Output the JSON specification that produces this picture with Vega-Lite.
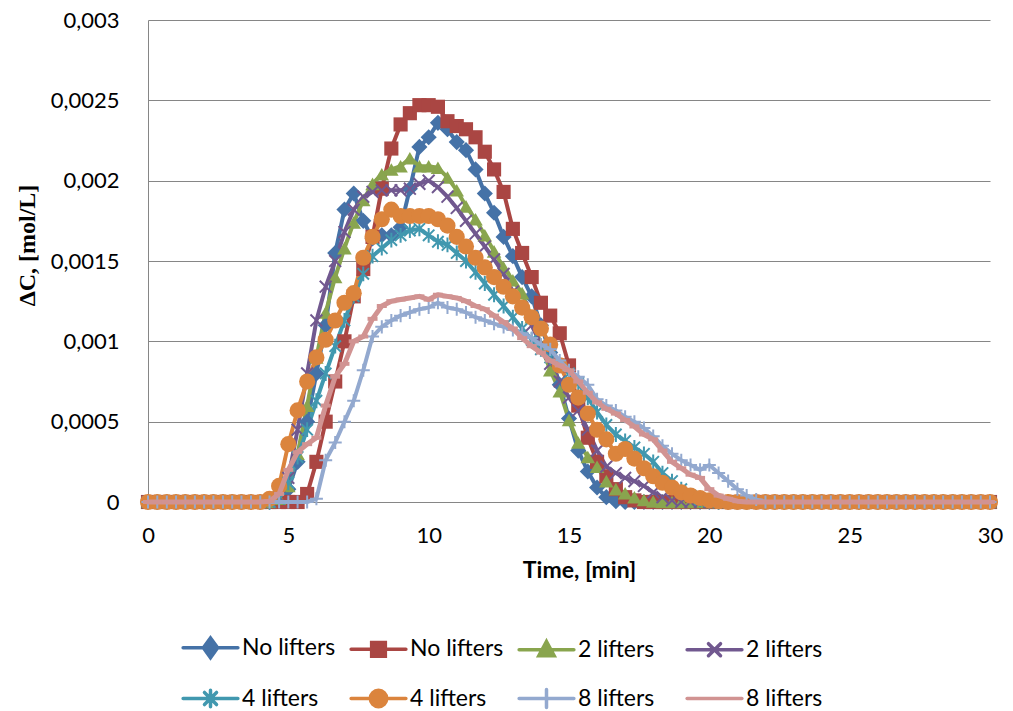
{
"$schema":"https://vega.github.io/schema/vega-lite/v6.json",
"width":842,"height":482,
"autosize":{"type":"none"},
"padding":{"left":148,"top":20,"right":23,"bottom":209},
"background":"white",
"config":{"view":{"stroke":null},"font":"Lato"},
"data":{"values":[
{"s":"No lifters","t":0,"v":0},{"s":"No lifters","t":0.33,"v":0},{"s":"No lifters","t":0.67,"v":0},{"s":"No lifters","t":1,"v":0},{"s":"No lifters","t":1.33,"v":0},{"s":"No lifters","t":1.67,"v":0},{"s":"No lifters","t":2,"v":0},{"s":"No lifters","t":2.33,"v":0},{"s":"No lifters","t":2.67,"v":0},{"s":"No lifters","t":3,"v":0},{"s":"No lifters","t":3.33,"v":0},{"s":"No lifters","t":3.67,"v":0},{"s":"No lifters","t":4,"v":0},{"s":"No lifters","t":4.33,"v":0},{"s":"No lifters","t":4.67,"v":0.00001},{"s":"No lifters","t":5,"v":0.00008},{"s":"No lifters","t":5.33,"v":0.00025},{"s":"No lifters","t":5.67,"v":0.0005},{"s":"No lifters","t":6,"v":0.0008},{"s":"No lifters","t":6.33,"v":0.0011},{"s":"No lifters","t":6.67,"v":0.00155},{"s":"No lifters","t":7,"v":0.00182},{"s":"No lifters","t":7.33,"v":0.00192},{"s":"No lifters","t":7.67,"v":0.00175},{"s":"No lifters","t":8,"v":0.00164},{"s":"No lifters","t":8.33,"v":0.00166},{"s":"No lifters","t":8.67,"v":0.00166},{"s":"No lifters","t":9,"v":0.00171},{"s":"No lifters","t":9.33,"v":0.00195},{"s":"No lifters","t":9.67,"v":0.00221},{"s":"No lifters","t":10,"v":0.00227},{"s":"No lifters","t":10.33,"v":0.00236},{"s":"No lifters","t":10.67,"v":0.00232},{"s":"No lifters","t":11,"v":0.00224},{"s":"No lifters","t":11.33,"v":0.00219},{"s":"No lifters","t":11.67,"v":0.00207},{"s":"No lifters","t":12,"v":0.00192},{"s":"No lifters","t":12.33,"v":0.0018},{"s":"No lifters","t":12.67,"v":0.00165},{"s":"No lifters","t":13,"v":0.00153},{"s":"No lifters","t":13.33,"v":0.0014},{"s":"No lifters","t":13.67,"v":0.00128},{"s":"No lifters","t":14,"v":0.0011},{"s":"No lifters","t":14.33,"v":0.00093},{"s":"No lifters","t":14.67,"v":0.00073},{"s":"No lifters","t":15,"v":0.00052},{"s":"No lifters","t":15.33,"v":0.00032},{"s":"No lifters","t":15.67,"v":0.00019},{"s":"No lifters","t":16,"v":0.00009},{"s":"No lifters","t":16.33,"v":0.00003},{"s":"No lifters","t":16.67,"v":0.000005},{"s":"No lifters","t":17,"v":0},{"s":"No lifters","t":17.33,"v":0},{"s":"No lifters","t":17.67,"v":0},{"s":"No lifters","t":18,"v":0},{"s":"No lifters","t":18.33,"v":0},{"s":"No lifters","t":18.67,"v":0},{"s":"No lifters","t":19,"v":0},{"s":"No lifters","t":19.33,"v":0},{"s":"No lifters","t":19.67,"v":0},{"s":"No lifters","t":20,"v":0},{"s":"No lifters","t":20.33,"v":0},{"s":"No lifters","t":20.67,"v":0},{"s":"No lifters","t":21,"v":0},{"s":"No lifters","t":21.33,"v":0},{"s":"No lifters","t":21.67,"v":0},{"s":"No lifters","t":22,"v":0},{"s":"No lifters","t":22.33,"v":0},{"s":"No lifters","t":22.67,"v":0},{"s":"No lifters","t":23,"v":0},{"s":"No lifters","t":23.33,"v":0},{"s":"No lifters","t":23.67,"v":0},{"s":"No lifters","t":24,"v":0},{"s":"No lifters","t":24.33,"v":0},{"s":"No lifters","t":24.67,"v":0},{"s":"No lifters","t":25,"v":0},{"s":"No lifters","t":25.33,"v":0},{"s":"No lifters","t":25.67,"v":0},{"s":"No lifters","t":26,"v":0},{"s":"No lifters","t":26.33,"v":0},{"s":"No lifters","t":26.67,"v":0},{"s":"No lifters","t":27,"v":0},{"s":"No lifters","t":27.33,"v":0},{"s":"No lifters","t":27.67,"v":0},{"s":"No lifters","t":28,"v":0},{"s":"No lifters","t":28.33,"v":0},{"s":"No lifters","t":28.67,"v":0},{"s":"No lifters","t":29,"v":0},{"s":"No lifters","t":29.33,"v":0},{"s":"No lifters","t":29.67,"v":0},{"s":"No lifters","t":30,"v":0},
{"s":"No lifters ","t":0,"v":0},{"s":"No lifters ","t":0.33,"v":0},{"s":"No lifters ","t":0.67,"v":0},{"s":"No lifters ","t":1,"v":0},{"s":"No lifters ","t":1.33,"v":0},{"s":"No lifters ","t":1.67,"v":0},{"s":"No lifters ","t":2,"v":0},{"s":"No lifters ","t":2.33,"v":0},{"s":"No lifters ","t":2.67,"v":0},{"s":"No lifters ","t":3,"v":0},{"s":"No lifters ","t":3.33,"v":0},{"s":"No lifters ","t":3.67,"v":0},{"s":"No lifters ","t":4,"v":0},{"s":"No lifters ","t":4.33,"v":0},{"s":"No lifters ","t":4.67,"v":0},{"s":"No lifters ","t":5,"v":0},{"s":"No lifters ","t":5.33,"v":0},{"s":"No lifters ","t":5.67,"v":0.00005},{"s":"No lifters ","t":6,"v":0.00025},{"s":"No lifters ","t":6.33,"v":0.0005},{"s":"No lifters ","t":6.67,"v":0.00075},{"s":"No lifters ","t":7,"v":0.001},{"s":"No lifters ","t":7.33,"v":0.00128},{"s":"No lifters ","t":7.67,"v":0.00145},{"s":"No lifters ","t":8,"v":0.00165},{"s":"No lifters ","t":8.33,"v":0.00195},{"s":"No lifters ","t":8.67,"v":0.0022},{"s":"No lifters ","t":9,"v":0.00235},{"s":"No lifters ","t":9.33,"v":0.00242},{"s":"No lifters ","t":9.67,"v":0.00247},{"s":"No lifters ","t":10,"v":0.00247},{"s":"No lifters ","t":10.33,"v":0.00246},{"s":"No lifters ","t":10.67,"v":0.00237},{"s":"No lifters ","t":11,"v":0.00234},{"s":"No lifters ","t":11.33,"v":0.00232},{"s":"No lifters ","t":11.67,"v":0.00227},{"s":"No lifters ","t":12,"v":0.00218},{"s":"No lifters ","t":12.33,"v":0.00207},{"s":"No lifters ","t":12.67,"v":0.00193},{"s":"No lifters ","t":13,"v":0.0017},{"s":"No lifters ","t":13.33,"v":0.00155},{"s":"No lifters ","t":13.67,"v":0.0014},{"s":"No lifters ","t":14,"v":0.00124},{"s":"No lifters ","t":14.33,"v":0.00116},{"s":"No lifters ","t":14.67,"v":0.00105},{"s":"No lifters ","t":15,"v":0.00085},{"s":"No lifters ","t":15.33,"v":0.0006},{"s":"No lifters ","t":15.67,"v":0.0004},{"s":"No lifters ","t":16,"v":0.00025},{"s":"No lifters ","t":16.33,"v":0.00016},{"s":"No lifters ","t":16.67,"v":0.00008},{"s":"No lifters ","t":17,"v":0.00003},{"s":"No lifters ","t":17.33,"v":0.00001},{"s":"No lifters ","t":17.67,"v":0},{"s":"No lifters ","t":18,"v":0},{"s":"No lifters ","t":18.33,"v":0},{"s":"No lifters ","t":18.67,"v":0},{"s":"No lifters ","t":19,"v":0},{"s":"No lifters ","t":19.33,"v":0},{"s":"No lifters ","t":19.67,"v":0},{"s":"No lifters ","t":20,"v":0},{"s":"No lifters ","t":20.33,"v":0},{"s":"No lifters ","t":20.67,"v":0},{"s":"No lifters ","t":21,"v":0},{"s":"No lifters ","t":21.33,"v":0},{"s":"No lifters ","t":21.67,"v":0},{"s":"No lifters ","t":22,"v":0},{"s":"No lifters ","t":22.33,"v":0},{"s":"No lifters ","t":22.67,"v":0},{"s":"No lifters ","t":23,"v":0},{"s":"No lifters ","t":23.33,"v":0},{"s":"No lifters ","t":23.67,"v":0},{"s":"No lifters ","t":24,"v":0},{"s":"No lifters ","t":24.33,"v":0},{"s":"No lifters ","t":24.67,"v":0},{"s":"No lifters ","t":25,"v":0},{"s":"No lifters ","t":25.33,"v":0},{"s":"No lifters ","t":25.67,"v":0},{"s":"No lifters ","t":26,"v":0},{"s":"No lifters ","t":26.33,"v":0},{"s":"No lifters ","t":26.67,"v":0},{"s":"No lifters ","t":27,"v":0},{"s":"No lifters ","t":27.33,"v":0},{"s":"No lifters ","t":27.67,"v":0},{"s":"No lifters ","t":28,"v":0},{"s":"No lifters ","t":28.33,"v":0},{"s":"No lifters ","t":28.67,"v":0},{"s":"No lifters ","t":29,"v":0},{"s":"No lifters ","t":29.33,"v":0},{"s":"No lifters ","t":29.67,"v":0},{"s":"No lifters ","t":30,"v":0},
{"s":"2 lifters","t":0,"v":0},{"s":"2 lifters","t":0.33,"v":0},{"s":"2 lifters","t":0.67,"v":0},{"s":"2 lifters","t":1,"v":0},{"s":"2 lifters","t":1.33,"v":0},{"s":"2 lifters","t":1.67,"v":0},{"s":"2 lifters","t":2,"v":0},{"s":"2 lifters","t":2.33,"v":0},{"s":"2 lifters","t":2.67,"v":0},{"s":"2 lifters","t":3,"v":0},{"s":"2 lifters","t":3.33,"v":0},{"s":"2 lifters","t":3.67,"v":0},{"s":"2 lifters","t":4,"v":0},{"s":"2 lifters","t":4.33,"v":0},{"s":"2 lifters","t":4.67,"v":0.00002},{"s":"2 lifters","t":5,"v":0.0001},{"s":"2 lifters","t":5.33,"v":0.0003},{"s":"2 lifters","t":5.67,"v":0.0006},{"s":"2 lifters","t":6,"v":0.0009},{"s":"2 lifters","t":6.33,"v":0.00118},{"s":"2 lifters","t":6.67,"v":0.0014},{"s":"2 lifters","t":7,"v":0.00158},{"s":"2 lifters","t":7.33,"v":0.00174},{"s":"2 lifters","t":7.67,"v":0.00188},{"s":"2 lifters","t":8,"v":0.00198},{"s":"2 lifters","t":8.33,"v":0.00204},{"s":"2 lifters","t":8.67,"v":0.00207},{"s":"2 lifters","t":9,"v":0.00209},{"s":"2 lifters","t":9.33,"v":0.00214},{"s":"2 lifters","t":9.67,"v":0.00209},{"s":"2 lifters","t":10,"v":0.00209},{"s":"2 lifters","t":10.33,"v":0.00208},{"s":"2 lifters","t":10.67,"v":0.00202},{"s":"2 lifters","t":11,"v":0.00194},{"s":"2 lifters","t":11.33,"v":0.00184},{"s":"2 lifters","t":11.67,"v":0.00176},{"s":"2 lifters","t":12,"v":0.00166},{"s":"2 lifters","t":12.33,"v":0.00156},{"s":"2 lifters","t":12.67,"v":0.00146},{"s":"2 lifters","t":13,"v":0.00138},{"s":"2 lifters","t":13.33,"v":0.0013},{"s":"2 lifters","t":13.67,"v":0.00115},{"s":"2 lifters","t":14,"v":0.00098},{"s":"2 lifters","t":14.33,"v":0.00082},{"s":"2 lifters","t":14.67,"v":0.00069},{"s":"2 lifters","t":15,"v":0.00051},{"s":"2 lifters","t":15.33,"v":0.00037},{"s":"2 lifters","t":15.67,"v":0.00028},{"s":"2 lifters","t":16,"v":0.00022},{"s":"2 lifters","t":16.33,"v":0.00013},{"s":"2 lifters","t":16.67,"v":0.00008},{"s":"2 lifters","t":17,"v":0.000055},{"s":"2 lifters","t":17.33,"v":0.00003},{"s":"2 lifters","t":17.67,"v":0.000012},{"s":"2 lifters","t":18,"v":0.000003},{"s":"2 lifters","t":18.33,"v":0},{"s":"2 lifters","t":18.67,"v":0},{"s":"2 lifters","t":19,"v":0},{"s":"2 lifters","t":19.33,"v":0},{"s":"2 lifters","t":19.67,"v":0},{"s":"2 lifters","t":20,"v":0},{"s":"2 lifters","t":20.33,"v":0},{"s":"2 lifters","t":20.67,"v":0},{"s":"2 lifters","t":21,"v":0},{"s":"2 lifters","t":21.33,"v":0},{"s":"2 lifters","t":21.67,"v":0},{"s":"2 lifters","t":22,"v":0},{"s":"2 lifters","t":22.33,"v":0},{"s":"2 lifters","t":22.67,"v":0},{"s":"2 lifters","t":23,"v":0},{"s":"2 lifters","t":23.33,"v":0},{"s":"2 lifters","t":23.67,"v":0},{"s":"2 lifters","t":24,"v":0},{"s":"2 lifters","t":24.33,"v":0},{"s":"2 lifters","t":24.67,"v":0},{"s":"2 lifters","t":25,"v":0},{"s":"2 lifters","t":25.33,"v":0},{"s":"2 lifters","t":25.67,"v":0},{"s":"2 lifters","t":26,"v":0},{"s":"2 lifters","t":26.33,"v":0},{"s":"2 lifters","t":26.67,"v":0},{"s":"2 lifters","t":27,"v":0},{"s":"2 lifters","t":27.33,"v":0},{"s":"2 lifters","t":27.67,"v":0},{"s":"2 lifters","t":28,"v":0},{"s":"2 lifters","t":28.33,"v":0},{"s":"2 lifters","t":28.67,"v":0},{"s":"2 lifters","t":29,"v":0},{"s":"2 lifters","t":29.33,"v":0},{"s":"2 lifters","t":29.67,"v":0},{"s":"2 lifters","t":30,"v":0},
{"s":"2 lifters ","t":0,"v":0},{"s":"2 lifters ","t":0.33,"v":0},{"s":"2 lifters ","t":0.67,"v":0},{"s":"2 lifters ","t":1,"v":0},{"s":"2 lifters ","t":1.33,"v":0},{"s":"2 lifters ","t":1.67,"v":0},{"s":"2 lifters ","t":2,"v":0},{"s":"2 lifters ","t":2.33,"v":0},{"s":"2 lifters ","t":2.67,"v":0},{"s":"2 lifters ","t":3,"v":0},{"s":"2 lifters ","t":3.33,"v":0},{"s":"2 lifters ","t":3.67,"v":0},{"s":"2 lifters ","t":4,"v":0},{"s":"2 lifters ","t":4.33,"v":0},{"s":"2 lifters ","t":4.67,"v":0.00003},{"s":"2 lifters ","t":5,"v":0.00015},{"s":"2 lifters ","t":5.33,"v":0.00045},{"s":"2 lifters ","t":5.67,"v":0.0008},{"s":"2 lifters ","t":6,"v":0.00113},{"s":"2 lifters ","t":6.33,"v":0.00134},{"s":"2 lifters ","t":6.67,"v":0.0015},{"s":"2 lifters ","t":7,"v":0.00168},{"s":"2 lifters ","t":7.33,"v":0.00182},{"s":"2 lifters ","t":7.67,"v":0.0019},{"s":"2 lifters ","t":8,"v":0.00193},{"s":"2 lifters ","t":8.33,"v":0.00194},{"s":"2 lifters ","t":8.67,"v":0.00194},{"s":"2 lifters ","t":9,"v":0.00194},{"s":"2 lifters ","t":9.33,"v":0.00195},{"s":"2 lifters ","t":9.67,"v":0.00198},{"s":"2 lifters ","t":10,"v":0.002},{"s":"2 lifters ","t":10.33,"v":0.00196},{"s":"2 lifters ","t":10.67,"v":0.0019},{"s":"2 lifters ","t":11,"v":0.00183},{"s":"2 lifters ","t":11.33,"v":0.00175},{"s":"2 lifters ","t":11.67,"v":0.00167},{"s":"2 lifters ","t":12,"v":0.00159},{"s":"2 lifters ","t":12.33,"v":0.00151},{"s":"2 lifters ","t":12.67,"v":0.00142},{"s":"2 lifters ","t":13,"v":0.00131},{"s":"2 lifters ","t":13.33,"v":0.00121},{"s":"2 lifters ","t":13.67,"v":0.0011},{"s":"2 lifters ","t":14,"v":0.00098},{"s":"2 lifters ","t":14.33,"v":0.00086},{"s":"2 lifters ","t":14.67,"v":0.00075},{"s":"2 lifters ","t":15,"v":0.00065},{"s":"2 lifters ","t":15.33,"v":0.00057},{"s":"2 lifters ","t":15.67,"v":0.00045},{"s":"2 lifters ","t":16,"v":0.00032},{"s":"2 lifters ","t":16.33,"v":0.00022},{"s":"2 lifters ","t":16.67,"v":0.00018},{"s":"2 lifters ","t":17,"v":0.00015},{"s":"2 lifters ","t":17.33,"v":0.00013},{"s":"2 lifters ","t":17.67,"v":0.0001},{"s":"2 lifters ","t":18,"v":0.00006},{"s":"2 lifters ","t":18.33,"v":0.00003},{"s":"2 lifters ","t":18.67,"v":0.00001},{"s":"2 lifters ","t":19,"v":0},{"s":"2 lifters ","t":19.33,"v":0},{"s":"2 lifters ","t":19.67,"v":0},{"s":"2 lifters ","t":20,"v":0},{"s":"2 lifters ","t":20.33,"v":0},{"s":"2 lifters ","t":20.67,"v":0},{"s":"2 lifters ","t":21,"v":0},{"s":"2 lifters ","t":21.33,"v":0},{"s":"2 lifters ","t":21.67,"v":0},{"s":"2 lifters ","t":22,"v":0},{"s":"2 lifters ","t":22.33,"v":0},{"s":"2 lifters ","t":22.67,"v":0},{"s":"2 lifters ","t":23,"v":0},{"s":"2 lifters ","t":23.33,"v":0},{"s":"2 lifters ","t":23.67,"v":0},{"s":"2 lifters ","t":24,"v":0},{"s":"2 lifters ","t":24.33,"v":0},{"s":"2 lifters ","t":24.67,"v":0},{"s":"2 lifters ","t":25,"v":0},{"s":"2 lifters ","t":25.33,"v":0},{"s":"2 lifters ","t":25.67,"v":0},{"s":"2 lifters ","t":26,"v":0},{"s":"2 lifters ","t":26.33,"v":0},{"s":"2 lifters ","t":26.67,"v":0},{"s":"2 lifters ","t":27,"v":0},{"s":"2 lifters ","t":27.33,"v":0},{"s":"2 lifters ","t":27.67,"v":0},{"s":"2 lifters ","t":28,"v":0},{"s":"2 lifters ","t":28.33,"v":0},{"s":"2 lifters ","t":28.67,"v":0},{"s":"2 lifters ","t":29,"v":0},{"s":"2 lifters ","t":29.33,"v":0},{"s":"2 lifters ","t":29.67,"v":0},{"s":"2 lifters ","t":30,"v":0},
{"s":"4 lifters","t":0,"v":0},{"s":"4 lifters","t":0.33,"v":0},{"s":"4 lifters","t":0.67,"v":0},{"s":"4 lifters","t":1,"v":0},{"s":"4 lifters","t":1.33,"v":0},{"s":"4 lifters","t":1.67,"v":0},{"s":"4 lifters","t":2,"v":0},{"s":"4 lifters","t":2.33,"v":0},{"s":"4 lifters","t":2.67,"v":0},{"s":"4 lifters","t":3,"v":0},{"s":"4 lifters","t":3.33,"v":0},{"s":"4 lifters","t":3.67,"v":0},{"s":"4 lifters","t":4,"v":0},{"s":"4 lifters","t":4.33,"v":0},{"s":"4 lifters","t":4.67,"v":0.00002},{"s":"4 lifters","t":5,"v":0.00012},{"s":"4 lifters","t":5.33,"v":0.00028},{"s":"4 lifters","t":5.67,"v":0.00045},{"s":"4 lifters","t":6,"v":0.00063},{"s":"4 lifters","t":6.33,"v":0.0008},{"s":"4 lifters","t":6.67,"v":0.00097},{"s":"4 lifters","t":7,"v":0.00113},{"s":"4 lifters","t":7.33,"v":0.00128},{"s":"4 lifters","t":7.67,"v":0.00142},{"s":"4 lifters","t":8,"v":0.00153},{"s":"4 lifters","t":8.33,"v":0.00158},{"s":"4 lifters","t":8.67,"v":0.00163},{"s":"4 lifters","t":9,"v":0.00166},{"s":"4 lifters","t":9.33,"v":0.00169},{"s":"4 lifters","t":9.67,"v":0.0017},{"s":"4 lifters","t":10,"v":0.00166},{"s":"4 lifters","t":10.33,"v":0.00162},{"s":"4 lifters","t":10.67,"v":0.0016},{"s":"4 lifters","t":11,"v":0.00155},{"s":"4 lifters","t":11.33,"v":0.0015},{"s":"4 lifters","t":11.67,"v":0.00143},{"s":"4 lifters","t":12,"v":0.00136},{"s":"4 lifters","t":12.33,"v":0.00129},{"s":"4 lifters","t":12.67,"v":0.00122},{"s":"4 lifters","t":13,"v":0.00115},{"s":"4 lifters","t":13.33,"v":0.00108},{"s":"4 lifters","t":13.67,"v":0.00101},{"s":"4 lifters","t":14,"v":0.00095},{"s":"4 lifters","t":14.33,"v":0.0009},{"s":"4 lifters","t":14.67,"v":0.00085},{"s":"4 lifters","t":15,"v":0.0008},{"s":"4 lifters","t":15.33,"v":0.00074},{"s":"4 lifters","t":15.67,"v":0.00065},{"s":"4 lifters","t":16,"v":0.00056},{"s":"4 lifters","t":16.33,"v":0.00048},{"s":"4 lifters","t":16.67,"v":0.00042},{"s":"4 lifters","t":17,"v":0.00038},{"s":"4 lifters","t":17.33,"v":0.00034},{"s":"4 lifters","t":17.67,"v":0.0003},{"s":"4 lifters","t":18,"v":0.00025},{"s":"4 lifters","t":18.33,"v":0.00018},{"s":"4 lifters","t":18.67,"v":0.00013},{"s":"4 lifters","t":19,"v":0.00008},{"s":"4 lifters","t":19.33,"v":0.00004},{"s":"4 lifters","t":19.67,"v":0.000015},{"s":"4 lifters","t":20,"v":0.000005},{"s":"4 lifters","t":20.33,"v":0},{"s":"4 lifters","t":20.67,"v":0},{"s":"4 lifters","t":21,"v":0},{"s":"4 lifters","t":21.33,"v":0},{"s":"4 lifters","t":21.67,"v":0},{"s":"4 lifters","t":22,"v":0},{"s":"4 lifters","t":22.33,"v":0},{"s":"4 lifters","t":22.67,"v":0},{"s":"4 lifters","t":23,"v":0},{"s":"4 lifters","t":23.33,"v":0},{"s":"4 lifters","t":23.67,"v":0},{"s":"4 lifters","t":24,"v":0},{"s":"4 lifters","t":24.33,"v":0},{"s":"4 lifters","t":24.67,"v":0},{"s":"4 lifters","t":25,"v":0},{"s":"4 lifters","t":25.33,"v":0},{"s":"4 lifters","t":25.67,"v":0},{"s":"4 lifters","t":26,"v":0},{"s":"4 lifters","t":26.33,"v":0},{"s":"4 lifters","t":26.67,"v":0},{"s":"4 lifters","t":27,"v":0},{"s":"4 lifters","t":27.33,"v":0},{"s":"4 lifters","t":27.67,"v":0},{"s":"4 lifters","t":28,"v":0},{"s":"4 lifters","t":28.33,"v":0},{"s":"4 lifters","t":28.67,"v":0},{"s":"4 lifters","t":29,"v":0},{"s":"4 lifters","t":29.33,"v":0},{"s":"4 lifters","t":29.67,"v":0},{"s":"4 lifters","t":30,"v":0},
{"s":"4 lifters ","t":0,"v":0},{"s":"4 lifters ","t":0.33,"v":0},{"s":"4 lifters ","t":0.67,"v":0},{"s":"4 lifters ","t":1,"v":0},{"s":"4 lifters ","t":1.33,"v":0},{"s":"4 lifters ","t":1.67,"v":0},{"s":"4 lifters ","t":2,"v":0},{"s":"4 lifters ","t":2.33,"v":0},{"s":"4 lifters ","t":2.67,"v":0},{"s":"4 lifters ","t":3,"v":0},{"s":"4 lifters ","t":3.33,"v":0},{"s":"4 lifters ","t":3.67,"v":0},{"s":"4 lifters ","t":4,"v":0},{"s":"4 lifters ","t":4.33,"v":0.00002},{"s":"4 lifters ","t":4.67,"v":0.0001},{"s":"4 lifters ","t":5,"v":0.00036},{"s":"4 lifters ","t":5.33,"v":0.00057},{"s":"4 lifters ","t":5.67,"v":0.00075},{"s":"4 lifters ","t":6,"v":0.0009},{"s":"4 lifters ","t":6.33,"v":0.00101},{"s":"4 lifters ","t":6.67,"v":0.00113},{"s":"4 lifters ","t":7,"v":0.00124},{"s":"4 lifters ","t":7.33,"v":0.0013},{"s":"4 lifters ","t":7.67,"v":0.00152},{"s":"4 lifters ","t":8,"v":0.00165},{"s":"4 lifters ","t":8.33,"v":0.00176},{"s":"4 lifters ","t":8.67,"v":0.00182},{"s":"4 lifters ","t":9,"v":0.00178},{"s":"4 lifters ","t":9.33,"v":0.00178},{"s":"4 lifters ","t":9.67,"v":0.00178},{"s":"4 lifters ","t":10,"v":0.00178},{"s":"4 lifters ","t":10.33,"v":0.00176},{"s":"4 lifters ","t":10.67,"v":0.00172},{"s":"4 lifters ","t":11,"v":0.00165},{"s":"4 lifters ","t":11.33,"v":0.00159},{"s":"4 lifters ","t":11.67,"v":0.00152},{"s":"4 lifters ","t":12,"v":0.00146},{"s":"4 lifters ","t":12.33,"v":0.0014},{"s":"4 lifters ","t":12.67,"v":0.00134},{"s":"4 lifters ","t":13,"v":0.00128},{"s":"4 lifters ","t":13.33,"v":0.00121},{"s":"4 lifters ","t":13.67,"v":0.00115},{"s":"4 lifters ","t":14,"v":0.00108},{"s":"4 lifters ","t":14.33,"v":0.00098},{"s":"4 lifters ","t":14.67,"v":0.00085},{"s":"4 lifters ","t":15,"v":0.00073},{"s":"4 lifters ","t":15.33,"v":0.00065},{"s":"4 lifters ","t":15.67,"v":0.00055},{"s":"4 lifters ","t":16,"v":0.00045},{"s":"4 lifters ","t":16.33,"v":0.00039},{"s":"4 lifters ","t":16.67,"v":0.0003},{"s":"4 lifters ","t":17,"v":0.00033},{"s":"4 lifters ","t":17.33,"v":0.00027},{"s":"4 lifters ","t":17.67,"v":0.00021},{"s":"4 lifters ","t":18,"v":0.00016},{"s":"4 lifters ","t":18.33,"v":0.00012},{"s":"4 lifters ","t":18.67,"v":0.00009},{"s":"4 lifters ","t":19,"v":0.00006},{"s":"4 lifters ","t":19.33,"v":0.00004},{"s":"4 lifters ","t":19.67,"v":0.000025},{"s":"4 lifters ","t":20,"v":0.00001},{"s":"4 lifters ","t":20.33,"v":0.000005},{"s":"4 lifters ","t":20.67,"v":0},{"s":"4 lifters ","t":21,"v":0},{"s":"4 lifters ","t":21.33,"v":0},{"s":"4 lifters ","t":21.67,"v":0},{"s":"4 lifters ","t":22,"v":0},{"s":"4 lifters ","t":22.33,"v":0},{"s":"4 lifters ","t":22.67,"v":0},{"s":"4 lifters ","t":23,"v":0},{"s":"4 lifters ","t":23.33,"v":0},{"s":"4 lifters ","t":23.67,"v":0},{"s":"4 lifters ","t":24,"v":0},{"s":"4 lifters ","t":24.33,"v":0},{"s":"4 lifters ","t":24.67,"v":0},{"s":"4 lifters ","t":25,"v":0},{"s":"4 lifters ","t":25.33,"v":0},{"s":"4 lifters ","t":25.67,"v":0},{"s":"4 lifters ","t":26,"v":0},{"s":"4 lifters ","t":26.33,"v":0},{"s":"4 lifters ","t":26.67,"v":0},{"s":"4 lifters ","t":27,"v":0},{"s":"4 lifters ","t":27.33,"v":0},{"s":"4 lifters ","t":27.67,"v":0},{"s":"4 lifters ","t":28,"v":0},{"s":"4 lifters ","t":28.33,"v":0},{"s":"4 lifters ","t":28.67,"v":0},{"s":"4 lifters ","t":29,"v":0},{"s":"4 lifters ","t":29.33,"v":0},{"s":"4 lifters ","t":29.67,"v":0},{"s":"4 lifters ","t":30,"v":0},
{"s":"8 lifters","t":0,"v":0},{"s":"8 lifters","t":0.33,"v":0},{"s":"8 lifters","t":0.67,"v":0},{"s":"8 lifters","t":1,"v":0},{"s":"8 lifters","t":1.33,"v":0},{"s":"8 lifters","t":1.67,"v":0},{"s":"8 lifters","t":2,"v":0},{"s":"8 lifters","t":2.33,"v":0},{"s":"8 lifters","t":2.67,"v":0},{"s":"8 lifters","t":3,"v":0},{"s":"8 lifters","t":3.33,"v":0},{"s":"8 lifters","t":3.67,"v":0},{"s":"8 lifters","t":4,"v":0},{"s":"8 lifters","t":4.33,"v":0},{"s":"8 lifters","t":4.67,"v":0},{"s":"8 lifters","t":5,"v":0},{"s":"8 lifters","t":5.33,"v":0},{"s":"8 lifters","t":5.67,"v":0},{"s":"8 lifters","t":6,"v":0.00002},{"s":"8 lifters","t":6.33,"v":0.00026},{"s":"8 lifters","t":6.67,"v":0.00037},{"s":"8 lifters","t":7,"v":0.0005},{"s":"8 lifters","t":7.33,"v":0.00063},{"s":"8 lifters","t":7.67,"v":0.00082},{"s":"8 lifters","t":8,"v":0.00103},{"s":"8 lifters","t":8.33,"v":0.00109},{"s":"8 lifters","t":8.67,"v":0.00113},{"s":"8 lifters","t":9,"v":0.00116},{"s":"8 lifters","t":9.33,"v":0.00118},{"s":"8 lifters","t":9.67,"v":0.0012},{"s":"8 lifters","t":10,"v":0.00121},{"s":"8 lifters","t":10.33,"v":0.00124},{"s":"8 lifters","t":10.67,"v":0.00121},{"s":"8 lifters","t":11,"v":0.0012},{"s":"8 lifters","t":11.33,"v":0.00118},{"s":"8 lifters","t":11.67,"v":0.00115},{"s":"8 lifters","t":12,"v":0.00113},{"s":"8 lifters","t":12.33,"v":0.00111},{"s":"8 lifters","t":12.67,"v":0.00109},{"s":"8 lifters","t":13,"v":0.00107},{"s":"8 lifters","t":13.33,"v":0.00105},{"s":"8 lifters","t":13.67,"v":0.00102},{"s":"8 lifters","t":14,"v":0.00098},{"s":"8 lifters","t":14.33,"v":0.00095},{"s":"8 lifters","t":14.67,"v":0.00088},{"s":"8 lifters","t":15,"v":0.00082},{"s":"8 lifters","t":15.33,"v":0.00078},{"s":"8 lifters","t":15.67,"v":0.00073},{"s":"8 lifters","t":16,"v":0.00064},{"s":"8 lifters","t":16.33,"v":0.0006},{"s":"8 lifters","t":16.67,"v":0.00057},{"s":"8 lifters","t":17,"v":0.00053},{"s":"8 lifters","t":17.33,"v":0.0005},{"s":"8 lifters","t":17.67,"v":0.00046},{"s":"8 lifters","t":18,"v":0.00041},{"s":"8 lifters","t":18.33,"v":0.00035},{"s":"8 lifters","t":18.67,"v":0.0003},{"s":"8 lifters","t":19,"v":0.00026},{"s":"8 lifters","t":19.33,"v":0.00023},{"s":"8 lifters","t":19.67,"v":0.0002},{"s":"8 lifters","t":20,"v":0.00023},{"s":"8 lifters","t":20.33,"v":0.00018},{"s":"8 lifters","t":20.67,"v":0.00013},{"s":"8 lifters","t":21,"v":0.00008},{"s":"8 lifters","t":21.33,"v":0.00004},{"s":"8 lifters","t":21.67,"v":0.000015},{"s":"8 lifters","t":22,"v":0},{"s":"8 lifters","t":22.33,"v":0},{"s":"8 lifters","t":22.67,"v":0},{"s":"8 lifters","t":23,"v":0},{"s":"8 lifters","t":23.33,"v":0},{"s":"8 lifters","t":23.67,"v":0},{"s":"8 lifters","t":24,"v":0},{"s":"8 lifters","t":24.33,"v":0},{"s":"8 lifters","t":24.67,"v":0},{"s":"8 lifters","t":25,"v":0},{"s":"8 lifters","t":25.33,"v":0},{"s":"8 lifters","t":25.67,"v":0},{"s":"8 lifters","t":26,"v":0},{"s":"8 lifters","t":26.33,"v":0},{"s":"8 lifters","t":26.67,"v":0},{"s":"8 lifters","t":27,"v":0},{"s":"8 lifters","t":27.33,"v":0},{"s":"8 lifters","t":27.67,"v":0},{"s":"8 lifters","t":28,"v":0},{"s":"8 lifters","t":28.33,"v":0},{"s":"8 lifters","t":28.67,"v":0},{"s":"8 lifters","t":29,"v":0},{"s":"8 lifters","t":29.33,"v":0},{"s":"8 lifters","t":29.67,"v":0},{"s":"8 lifters","t":30,"v":0},
{"s":"8 lifters ","t":0,"v":0},{"s":"8 lifters ","t":0.33,"v":0},{"s":"8 lifters ","t":0.67,"v":0},{"s":"8 lifters ","t":1,"v":0},{"s":"8 lifters ","t":1.33,"v":0},{"s":"8 lifters ","t":1.67,"v":0},{"s":"8 lifters ","t":2,"v":0},{"s":"8 lifters ","t":2.33,"v":0},{"s":"8 lifters ","t":2.67,"v":0},{"s":"8 lifters ","t":3,"v":0},{"s":"8 lifters ","t":3.33,"v":0},{"s":"8 lifters ","t":3.67,"v":0},{"s":"8 lifters ","t":4,"v":0},{"s":"8 lifters ","t":4.33,"v":0.000005},{"s":"8 lifters ","t":4.67,"v":0.00005},{"s":"8 lifters ","t":5,"v":0.0002},{"s":"8 lifters ","t":5.33,"v":0.00031},{"s":"8 lifters ","t":5.67,"v":0.00036},{"s":"8 lifters ","t":6,"v":0.0004},{"s":"8 lifters ","t":6.33,"v":0.0006},{"s":"8 lifters ","t":6.67,"v":0.00078},{"s":"8 lifters ","t":7,"v":0.00086},{"s":"8 lifters ","t":7.33,"v":0.001},{"s":"8 lifters ","t":7.67,"v":0.00103},{"s":"8 lifters ","t":8,"v":0.00114},{"s":"8 lifters ","t":8.33,"v":0.00122},{"s":"8 lifters ","t":8.67,"v":0.00125},{"s":"8 lifters ","t":9,"v":0.00126},{"s":"8 lifters ","t":9.33,"v":0.00127},{"s":"8 lifters ","t":9.67,"v":0.00128},{"s":"8 lifters ","t":10,"v":0.00126},{"s":"8 lifters ","t":10.33,"v":0.00129},{"s":"8 lifters ","t":10.67,"v":0.00128},{"s":"8 lifters ","t":11,"v":0.00127},{"s":"8 lifters ","t":11.33,"v":0.00125},{"s":"8 lifters ","t":11.67,"v":0.00122},{"s":"8 lifters ","t":12,"v":0.0012},{"s":"8 lifters ","t":12.33,"v":0.00116},{"s":"8 lifters ","t":12.67,"v":0.00112},{"s":"8 lifters ","t":13,"v":0.00108},{"s":"8 lifters ","t":13.33,"v":0.00102},{"s":"8 lifters ","t":13.67,"v":0.00097},{"s":"8 lifters ","t":14,"v":0.00093},{"s":"8 lifters ","t":14.33,"v":0.00088},{"s":"8 lifters ","t":14.67,"v":0.00085},{"s":"8 lifters ","t":15,"v":0.00082},{"s":"8 lifters ","t":15.33,"v":0.00075},{"s":"8 lifters ","t":15.67,"v":0.00068},{"s":"8 lifters ","t":16,"v":0.00062},{"s":"8 lifters ","t":16.33,"v":0.00058},{"s":"8 lifters ","t":16.67,"v":0.00055},{"s":"8 lifters ","t":17,"v":0.00051},{"s":"8 lifters ","t":17.33,"v":0.00047},{"s":"8 lifters ","t":17.67,"v":0.00042},{"s":"8 lifters ","t":18,"v":0.00039},{"s":"8 lifters ","t":18.33,"v":0.00032},{"s":"8 lifters ","t":18.67,"v":0.00025},{"s":"8 lifters ","t":19,"v":0.00021},{"s":"8 lifters ","t":19.33,"v":0.00017},{"s":"8 lifters ","t":19.67,"v":0.00015},{"s":"8 lifters ","t":20,"v":0.00008},{"s":"8 lifters ","t":20.33,"v":0.00004},{"s":"8 lifters ","t":20.67,"v":0.00002},{"s":"8 lifters ","t":21,"v":0.000005},{"s":"8 lifters ","t":21.33,"v":0},{"s":"8 lifters ","t":21.67,"v":0},{"s":"8 lifters ","t":22,"v":0},{"s":"8 lifters ","t":22.33,"v":0},{"s":"8 lifters ","t":22.67,"v":0},{"s":"8 lifters ","t":23,"v":0},{"s":"8 lifters ","t":23.33,"v":0},{"s":"8 lifters ","t":23.67,"v":0},{"s":"8 lifters ","t":24,"v":0},{"s":"8 lifters ","t":24.33,"v":0},{"s":"8 lifters ","t":24.67,"v":0},{"s":"8 lifters ","t":25,"v":0},{"s":"8 lifters ","t":25.33,"v":0},{"s":"8 lifters ","t":25.67,"v":0},{"s":"8 lifters ","t":26,"v":0},{"s":"8 lifters ","t":26.33,"v":0},{"s":"8 lifters ","t":26.67,"v":0},{"s":"8 lifters ","t":27,"v":0},{"s":"8 lifters ","t":27.33,"v":0},{"s":"8 lifters ","t":27.67,"v":0},{"s":"8 lifters ","t":28,"v":0},{"s":"8 lifters ","t":28.33,"v":0},{"s":"8 lifters ","t":28.67,"v":0},{"s":"8 lifters ","t":29,"v":0},{"s":"8 lifters ","t":29.33,"v":0},{"s":"8 lifters ","t":29.67,"v":0},{"s":"8 lifters ","t":30,"v":0}
]},
"encoding":{
"x":{"field":"t","type":"quantitative","scale":{"domain":[0,30],"nice":false,"zero":false},
 "axis":{"values":[0,5,10,15,20,25,30],"title":"Time, [min]","grid":false,"ticks":false,"tickSize":0,"domain":true,"domainColor":"#868686","domainWidth":1,
 "labelFont":"Lato","labelFontSize":22,"labelColor":"#000000","labelPadding":40,"labelBaseline":"alphabetic","labelFlush":false,"labelOverlap":false,
 "titleFont":"Lato","titleFontSize":23,"titleFontWeight":"bold","titleColor":"#000000","titleBaseline":"alphabetic","titleAlign":"center","titleX":431,"titleY":75}},
"y":{"field":"v","type":"quantitative","scale":{"domain":[0,0.003],"nice":false},
 "axis":{"values":[0,0.0005,0.001,0.0015,0.002,0.0025,0.003],"title":"ΔC, [mol/L]","grid":true,"gridColor":"#868686","gridWidth":1,"ticks":false,"tickSize":0,"domain":true,"domainColor":"#868686","domainWidth":1,
 "labelExpr":"replace(format(datum.value, '~g'), '.', ',')","labelFont":"Lato","labelFontSize":22,"labelColor":"#000000","labelPadding":29,"labelFlush":false,"labelOverlap":false,"labelBaseline":"middle",
 "titleFont":"Liberation Serif","titleFontSize":24,"titleFontWeight":"bold","titleColor":"#000000","titleAngle":-90,"titleBaseline":"middle","titleAlign":"center","titleX":-121,"titleY":225}},
"color":{"field":"s","type":"nominal",
 "scale":{"domain":["No lifters","No lifters ","2 lifters","2 lifters ","4 lifters","4 lifters ","8 lifters","8 lifters "],"range":["#4572A7","#AA4643","#89A54E","#71588F","#4198AF","#DB843D","#93A9CF","#D19392"]},
 "legend":{"orient":"none","legendX":33,"legendY":598,"direction":"horizontal","columns":4,"gridAlign":"all","title":null,"padding":0,
  "symbolSize":3000,"symbolStrokeWidth":3.5,"labelOffset":2,"labelFont":"Lato","labelFontSize":23,"labelColor":"#000000","labelLimit":0,"columnPadding":8,"rowPadding":4,
  "encode":{"symbols":{"update":{
   "shape":{"signal":"['M-1,0H1M0,-0.36L0.26,0L0,0.36L-0.26,0Z','M-1,0H1M-0.25,-0.25H0.25V0.25H-0.25Z','M-1,0H1M0,-0.3L0.28,0.22H-0.28Z','M-1,0H1M-0.22,-0.22L0.22,0.22M-0.22,0.22L0.22,-0.22','M-1,0H1M-0.22,-0.22L0.22,0.22M-0.22,0.22L0.22,-0.22M0,-0.3V0.3','M-1,0H1M0.3,0A0.3,0.3,0,1,1,-0.3,0A0.3,0.3,0,1,1,0.3,0Z','M-1,0H1M0,-0.33V0.33','M-1,0H1'][indexof(domain('color'), datum.value)]"},
   "fill":{"signal":"indexof([0,1,2,5], indexof(domain('color'), datum.value)) >= 0 ? scale('color', datum.value) : 'transparent'"},
   "stroke":{"signal":"scale('color', datum.value)"},
   "strokeWidth":{"value":3.5},
   "size":{"value":3000},
   "opacity":{"value":1},
   "strokeCap":{"value":"round"}
  }}}}}
},
"layer":[
{"transform":[{"filter":{"field":"s","oneOf":["No lifters","No lifters ","2 lifters","2 lifters ","4 lifters","4 lifters "]}}],
 "mark":{"type":"line","strokeWidth":4,"strokeJoin":"round","strokeCap":"round"}},
{"transform":[{"filter":{"field":"s","equal":"No lifters"}}],
 "mark":{"type":"point","filled":true,"opacity":1,"shape":"diamond","size":260}},
{"transform":[{"filter":{"field":"s","equal":"No lifters "}}],
 "mark":{"type":"point","filled":true,"opacity":1,"shape":"square","size":200}},
{"transform":[{"filter":{"field":"s","equal":"2 lifters"}}],
 "mark":{"type":"point","filled":true,"opacity":1,"shape":"triangle-up","size":210}},
{"transform":[{"filter":{"field":"s","equal":"2 lifters "}}],
 "mark":{"type":"point","filled":false,"opacity":1,"strokeWidth":2,"shape":"M-1,-1L1,1M-1,1L1,-1","size":140}},
{"transform":[{"filter":{"field":"s","equal":"4 lifters"}}],
 "mark":{"type":"point","filled":false,"opacity":1,"strokeWidth":2,"shape":"M-1,-1L1,1M-1,1L1,-1M0,-1.3V1.3","size":130}},
{"transform":[{"filter":{"field":"s","equal":"4 lifters "}}],
 "mark":{"type":"point","filled":true,"opacity":1,"shape":"circle","size":260}},
{"transform":[{"filter":{"field":"s","equal":"8 lifters"}}],
 "mark":{"type":"line","strokeWidth":4,"strokeJoin":"round","strokeCap":"round"}},
{"transform":[{"filter":{"field":"s","equal":"8 lifters"}}],
 "mark":{"type":"point","filled":false,"opacity":1,"strokeWidth":2,"shape":"M-1,0H1M0,-1V1","size":170}},
{"transform":[{"filter":{"field":"s","equal":"8 lifters "}}],
 "mark":{"type":"line","strokeWidth":5,"strokeJoin":"round","strokeCap":"round"}},
{"transform":[{"filter":{"field":"s","equal":"8 lifters "}}],
 "mark":{"type":"point","filled":false,"opacity":1,"strokeWidth":4,"shape":"M-1,0H1","size":100}}
]
}
